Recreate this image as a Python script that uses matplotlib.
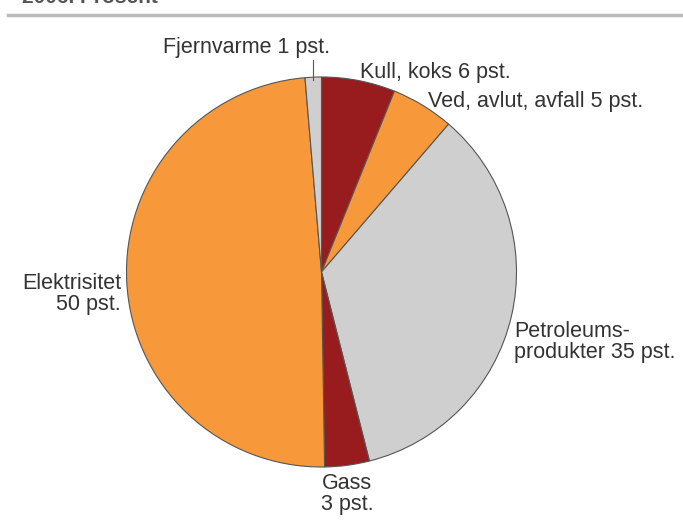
import matplotlib
matplotlib.use("Agg")
import matplotlib.pyplot as plt

labels = ["Kull, koks 6 pst.", "Ved, avlut, avfall 5 pst.", "Petroleums-\nprodukter 35 pst.",
          "Gass\n3 pst.", "Elektrisitet\n50 pst.", "Fjernvarme 1 pst."]
values = [6.1, 5.2, 34.75, 3.7, 48.9, 1.35]
colors = ["#981B1E", "#F7993A", "#CFCFCF", "#981B1E", "#F7993A", "#CFCFCF"]
title = "2006. Prosent"

W, H = 683, 521
fig = plt.figure(figsize=(W/100, H/100), dpi=100)
plt.rcParams['font.family'] = ['Liberation Sans', 'DejaVu Sans']

# pie axes: center (321,272), radius 195 px
cx, cy, r = 321.5, 272, 195
ax = fig.add_axes([(cx - r)/W, 1 - (cy + r)/H, 2*r/W, 2*r/H])
ax.pie(values, colors=colors, startangle=90, counterclock=False,
       wedgeprops=dict(edgecolor="#555555", linewidth=0.8))
ax.set_xlim(-1, 1); ax.set_ylim(-1, 1)
ax.set_aspect('equal')

tc = "#333333"
fs = 15.5
def px(x, y):
    return x / W, 1 - y / H

# title (cut off at top) and rule
fig.text(*px(22, 3), title, fontsize=15, fontweight='bold', color="#555555", ha='left', va='baseline')
fig.add_artist(plt.Line2D([8/W, 1], [1 - 15/H, 1 - 15/H], color="#BBBBBB", lw=2.5))

fig.text(*px(330, 47), labels[5], fontsize=fs, color=tc, ha='right', va='center')
fig.add_artist(plt.Line2D([313/W, 313/W], [1 - 60/H, 1 - 80/H], color="#555555", lw=0.8))
fig.text(*px(360, 72), labels[0], fontsize=fs, color=tc, ha='left', va='center')
fig.text(*px(428, 102), labels[1], fontsize=fs, color=tc, ha='left', va='center')
fig.text(*px(121, 294), labels[4], fontsize=fs, color=tc, ha='right', va='center', multialignment='right', linespacing=1.05)
fig.text(*px(514, 342), labels[2], fontsize=fs, color=tc, ha='left', va='center', multialignment='left', linespacing=1.05)
fig.text(*px(347, 494), labels[3], fontsize=fs, color=tc, ha='center', va='center', multialignment='center', linespacing=1.05)

fig.savefig("out.png", dpi=100)
